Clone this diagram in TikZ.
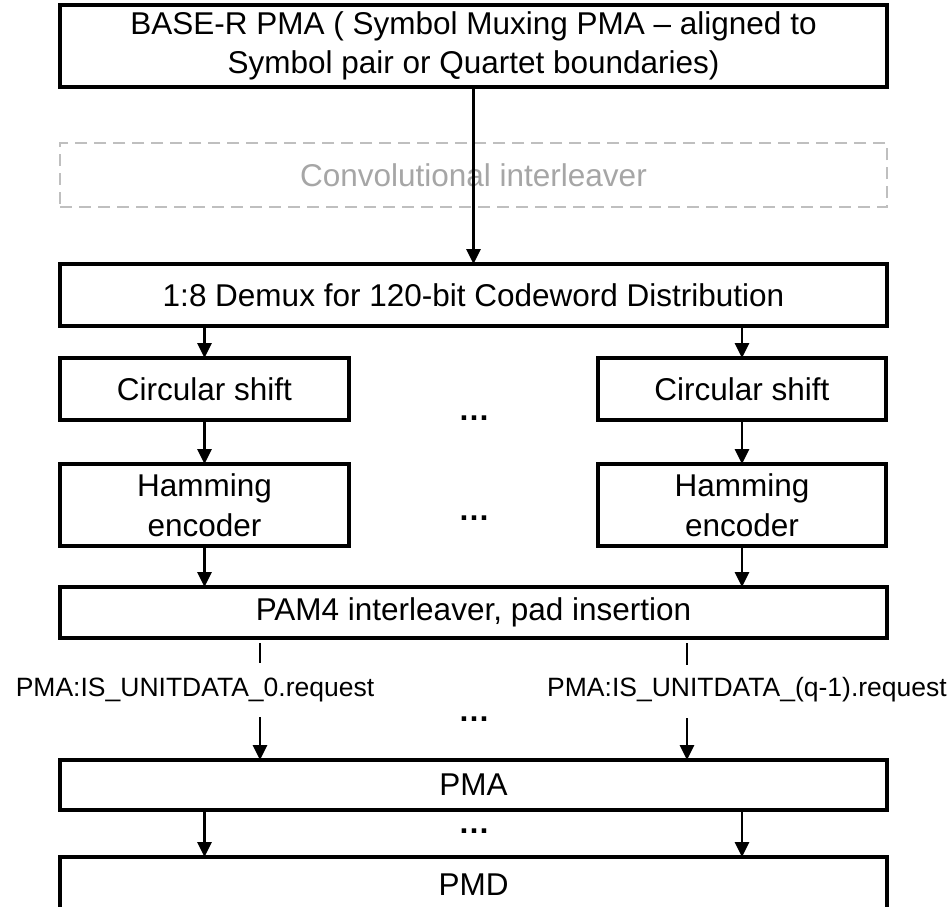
\documentclass[tikz,border=0pt]{standalone}
\usepackage{fontspec}
\setmainfont{Liberation Sans}
\usetikzlibrary{arrows.meta}
\definecolor{dashgray}{HTML}{BFBFBF}
\definecolor{textgray}{HTML}{A6A6A6}
\begin{document}
\begin{tikzpicture}[x=1pt,y=-1pt,
  blk/.style={draw=black, line width=3.2pt, rectangle, inner sep=0pt, outer sep=0pt,
    align=center, font=\fontsize{31.5}{39.5}\selectfont},
  ghost/.style={blk, draw=dashgray, line width=2.6pt, dash pattern=on 12pt off 7pt,
    text=textgray},
  arr/.style={line width=2.8pt, -{Triangle[length=15pt,width=14pt]}},
  tick/.style={line width=2.8pt},
  lbl/.style={inner sep=0pt, font=\fontsize{26.5}{30}\selectfont},
  dots/.style={inner sep=0pt, anchor=base, font=\fontsize{31.5}{36}\selectfont\bfseries}]
\clip (0,0) rectangle (950,906);
\fill[white] (0,0) rectangle (950,906);

% layer stack
\node[blk, minimum width=827pt, minimum height=82pt] (top) at (473.5,46)
  {BASE-R PMA ( Symbol Muxing PMA – aligned to\\Symbol pair or Quartet boundaries)};
\node[ghost, minimum width=827pt, minimum height=64pt] (conv) at (473.5,175)
  {Convolutional interleaver};
\node[blk, minimum width=827pt, minimum height=62pt] (demux) at (473.5,295)
  {1:8 Demux for 120-bit Codeword Distribution};

% per-lane blocks
\node[blk, minimum width=289pt, minimum height=62pt] (cs0) at (204.5,389) {Circular shift};
\node[blk, minimum width=288pt, minimum height=62pt] (cs1) at (742,389) {Circular shift};
\node[blk, minimum width=289pt, minimum height=82pt] (ham0) at (204.5,505) {Hamming\\encoder};
\node[blk, minimum width=288pt, minimum height=82pt] (ham1) at (742,505) {Hamming\\encoder};

\node[blk, minimum width=827pt, minimum height=51pt] (pam4) at (473.5,612.5)
  {PAM4 interleaver, pad insertion};
\node[blk, minimum width=827pt, minimum height=50pt] (pma) at (473.5,785) {PMA};
\node[blk, minimum width=827pt, minimum height=56pt] (pmd) at (473.5,885) {PMD};

% ellipses between the lanes
\node[dots] (d1) at (474,420) {…};
\node[dots] (d2) at (474,520) {…};
\node[dots] (d3) at (474,721) {…};
\node[dots] (d4) at (474,833) {…};

% service interface labels
\node[lbl] (lab0) at (195,690) {PMA:IS\_UNITDATA\_0.request};
\node[lbl] (lab1) at (747,690) {PMA:IS\_UNITDATA\_(q-1).request};

% connectors
\draw[arr] (top.south) -- (demux.north);
\draw[arr] (cs0.north |- demux.south) -- (cs0.north);
\draw[arr] (cs1.north |- demux.south) -- (cs1.north);
\draw[arr] (cs0.south) -- (ham0.north);
\draw[arr] (cs1.south) -- (ham1.north);
\draw[arr] (ham0.south) -- (ham0.south |- pam4.north);
\draw[arr] (ham1.south) -- (ham1.south |- pam4.north);

\coordinate (t0a) at (260,643);
\coordinate (t0b) at (260,663);
\coordinate (t0c) at (260,717);
\coordinate (t1a) at (687,643);
\coordinate (t1b) at (687,665);
\coordinate (t1c) at (687,718);
\draw[tick] (t0a) -- (t0b);
\draw[tick] (t1a) -- (t1b);
\draw[arr] (t0c) -- (t0c |- pma.north);
\draw[arr] (t1c) -- (t1c |- pma.north);

\draw[arr] (pma.south -| cs0.south) -- (pmd.north -| cs0.north);
\draw[arr] (pma.south -| cs1.south) -- (pmd.north -| cs1.north);
\end{tikzpicture}
\end{document}
